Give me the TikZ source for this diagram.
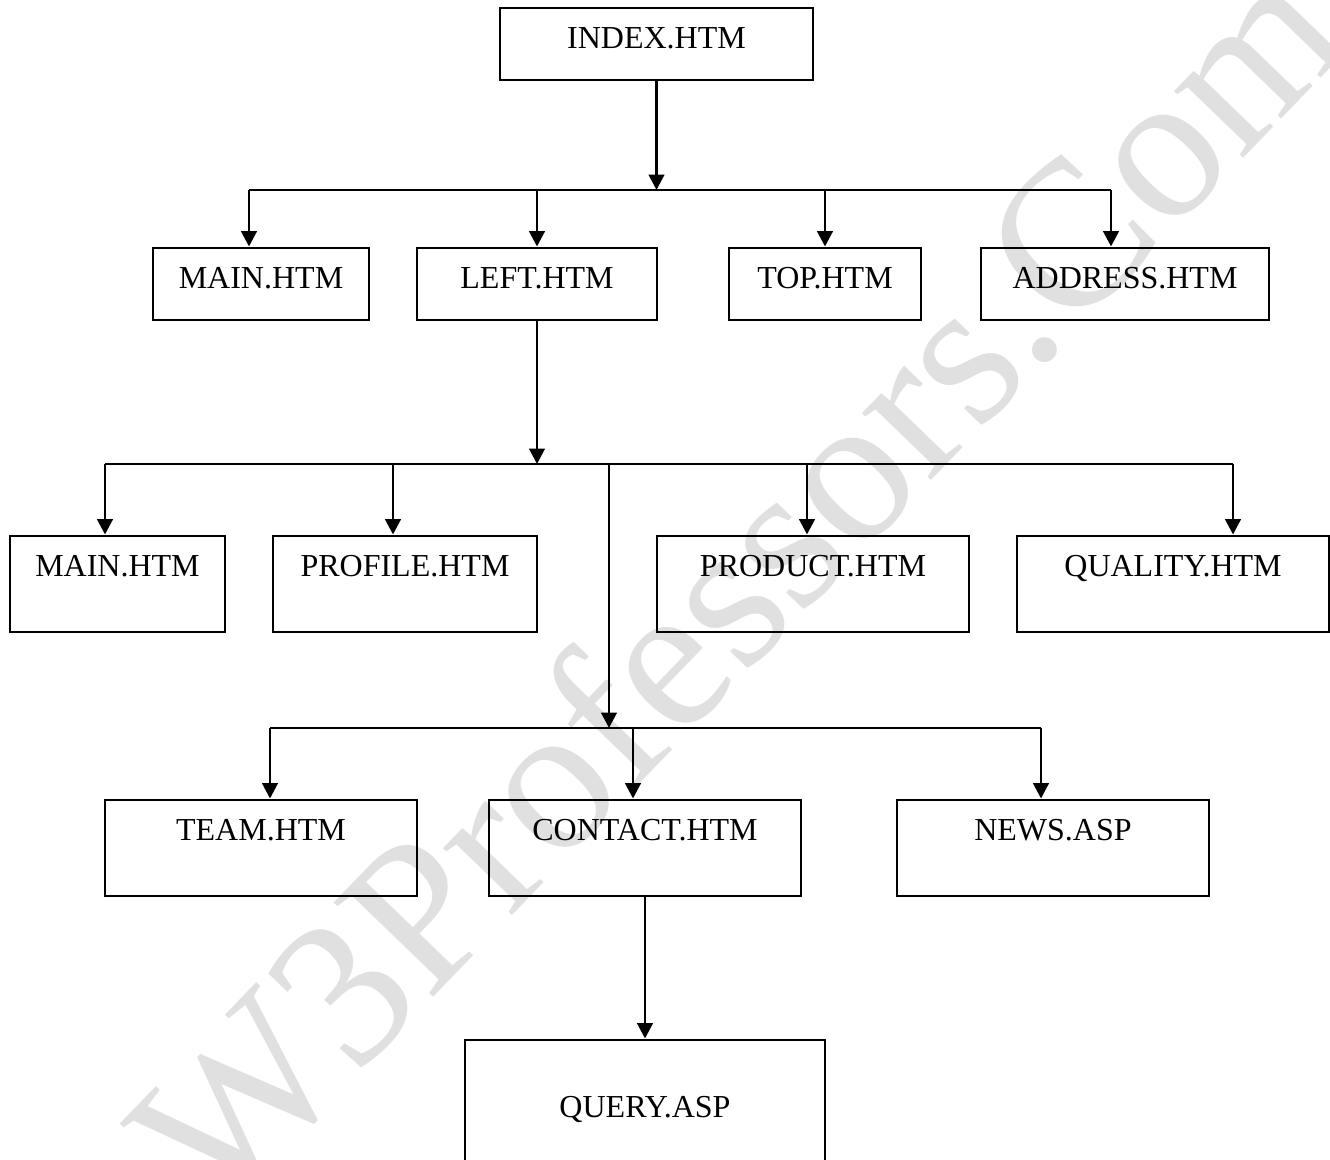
\documentclass[tikz,border=0pt]{standalone}
\usepackage{fontspec}
\setmainfont{Liberation Serif}
\usetikzlibrary{arrows.meta,fit,calc}

\tikzset{
  box/.style={draw, line width=2.2pt, inner sep=0pt},
  lbl/.style={anchor=base, inner sep=0pt, font=\fontsize{24pt}{28pt}\selectfont},
  link/.style={line width=2.2pt},
  arr/.style={link, -{Triangle[width=11.5pt,length=11.5pt]}},
  wmtext/.style={anchor=base west, inner sep=0pt, rotate=46, text=black!12,
               font=\fontsize{157pt}{160pt}\selectfont}
}

\begin{document}
\begin{tikzpicture}[x=0.75pt, y=-0.75pt]
\useasboundingbox (0,0) rectangle (1330,1159);

% background lettering
\node[wmtext] (wm) at (218,1220) {W3Professors.Com};

% level 0
\node[box, fit={(500,8) (813,80)}] (index) {};
\node[lbl] at ($(index.north)+(0,42)$) {INDEX.HTM};

% level 1
\node[box, fit={(153,248) (369,320)}] (main1) {};
\node[box, fit={(417,248) (657,320)}] (left) {};
\node[box, fit={(729,248) (921,320)}] (top) {};
\node[box, fit={(981,248) (1269,320)}] (address) {};
\node[lbl] at ($(main1.north)+(0,42)$) {MAIN.HTM};
\node[lbl] at ($(left.north)+(0,42)$) {LEFT.HTM};
\node[lbl] at ($(top.north)+(0,42)$) {TOP.HTM};
\node[lbl] at ($(address.north)+(0,42)$) {ADDRESS.HTM};

% level 2
\node[box, fit={(10,536) (225,632)}] (main2) {};
\node[box, fit={(273,536) (537,632)}] (profile) {};
\node[box, fit={(657,536) (969,632)}] (product) {};
\node[box, fit={(1017,536) (1329,632)}] (quality) {};
\node[lbl] at ($(main2.north)+(0,42)$) {MAIN.HTM};
\node[lbl] at ($(profile.north)+(0,42)$) {PROFILE.HTM};
\node[lbl] at ($(product.north)+(0,42)$) {PRODUCT.HTM};
\node[lbl] at ($(quality.north)+(0,42)$) {QUALITY.HTM};

% level 3
\node[box, fit={(105,800) (417,896)}] (team) {};
\node[box, fit={(489,800) (801,896)}] (contact) {};
\node[box, fit={(897,800) (1209,896)}] (news) {};
\node[lbl] at ($(team.north)+(0,42)$) {TEAM.HTM};
\node[lbl] at ($(contact.north)+(0,42)$) {CONTACT.HTM};
\node[lbl] at ($(news.north)+(0,42)$) {NEWS.ASP};

% level 4
\node[box, fit={(465,1040) (825,1166)}] (query) {};
\node[lbl] at ($(query.north)+(0,79)$) {QUERY.ASP};

% bus under INDEX.HTM
\coordinate (b1a) at (249,190);
\coordinate (b1b) at (537,190);
\coordinate (b1c) at (825,190);
\coordinate (b1d) at (1111,190);
\draw[arr] (index.south) -- (index.south |- b1a);
\draw[link] (b1a) -- (b1d);
\draw[arr] (b1a) -- (b1a |- main1.north);
\draw[arr] (b1b) -- (b1b |- left.north);
\draw[arr] (b1c) -- (b1c |- top.north);
\draw[arr] (b1d) -- (b1d |- address.north);

% bus under LEFT.HTM
\coordinate (b2a) at (105,464);
\coordinate (b2b) at (393,464);
\coordinate (b2m) at (609,464);
\coordinate (b2c) at (807,464);
\coordinate (b2d) at (1233,464);
\draw[arr] (left.south) -- (left.south |- b2a);
\draw[link] (b2a) -- (b2d);
\draw[arr] (b2a) -- (b2a |- main2.north);
\draw[arr] (b2b) -- (b2b |- profile.north);
\draw[arr] (b2c) -- (b2c |- product.north);
\draw[arr] (b2d) -- (b2d |- quality.north);

% second bus fed from the LEFT.HTM bus
\coordinate (b3a) at (270,728);
\coordinate (b3m) at (609,728);
\coordinate (b3b) at (633,728);
\coordinate (b3c) at (1041,728);
\draw[arr] (b2m) -- (b3m);
\draw[link] (b3a) -- (b3c);
\draw[arr] (b3a) -- (b3a |- team.north);
\draw[arr] (b3b) -- (b3b |- contact.north);
\draw[arr] (b3c) -- (b3c |- news.north);

% CONTACT.HTM to QUERY.ASP
\draw[arr] (contact.south) -- (query.north);
\end{tikzpicture}
\end{document}
